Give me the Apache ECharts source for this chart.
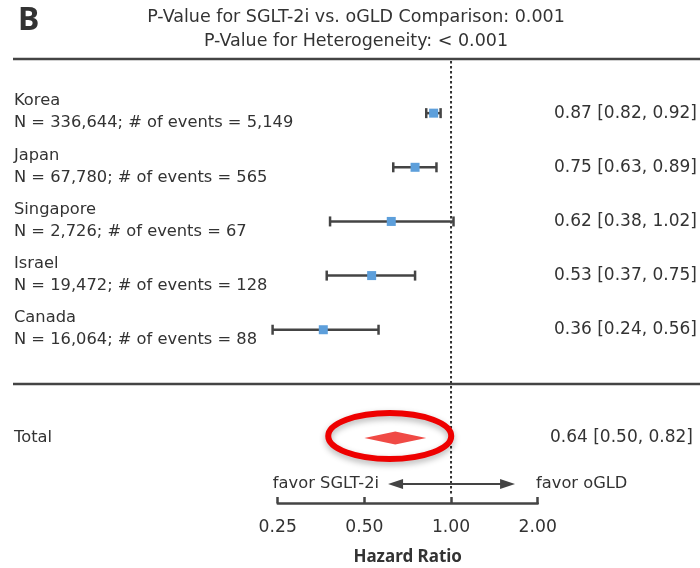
<!DOCTYPE html>
<html>
<head>
<meta charset="utf-8">
<script src="https://cdn.jsdelivr.net/npm/echarts@6/dist/echarts.min.js"></script>
<style>
html,body{margin:0;padding:0;background:#fff;}
#chart{width:700px;height:568px;}
</style>
</head>
<body>
<div id="chart"></div>
<script>
// ---- data ----
var countries = ['Korea', 'Japan', 'Singapore', 'Israel', 'Canada'];
var nLabels = [
  'N = 336,644; # of events = 5,149',
  'N = 67,780; # of events = 565',
  'N = 2,726; # of events = 67',
  'N = 19,472; # of events = 128',
  'N = 16,064; # of events = 88'
];
var hr = [0.87, 0.75, 0.62, 0.53, 0.36];
var lower = [0.82, 0.63, 0.38, 0.37, 0.24];
var upper = [0.92, 0.89, 1.02, 0.75, 0.56];
var totalLabel = 'Total';
var totalHr = 0.64, totalLower = 0.50, totalUpper = 0.82;
var xTicks = [0.25, 0.5, 1, 2];
var titleLines = ['P-Value for SGLT-2i vs. oGLD Comparison: 0.001', 'P-Value for Heterogeneity: < 0.001'];
var panelLetter = 'B';
var favorLeft = 'favor SGLT-2i', favorRight = 'favor oGLD';

// ---- build ----
var FONT = 'DejaVu Sans';
var BFONT = 'Noto Sans';
var FS = 16.3;
var FSR = 17;
var TXT = '#333';
var DARK = '#444';
var totalRow = countries.length + 1;
function fmt(v){ return v.toFixed(2); }
function ciText(h, l, u){ return fmt(h) + ' [' + fmt(l) + ', ' + fmt(u) + ']'; }

var rowData = countries.map(function(c, i){ return [hr[i], i, lower[i], upper[i]]; });
var textData = countries.map(function(c, i){ return [hr[i], i, c, nLabels[i], ciText(hr[i], lower[i], upper[i])]; });
textData.push([totalHr, totalRow, totalLabel, '', ciText(totalHr, totalLower, totalUpper)]);

var chart = echarts.init(document.getElementById('chart'), null, {renderer: 'canvas'});
var option = {
  animation: false,
  title: [
    {text: panelLetter, left: 13, top: 0, textStyle: {fontFamily: BFONT, fontSize: 32, fontWeight: 'bold', color: TXT}},
    {text: titleLines.join('\n'), left: 351, top: 0, textAlign: 'center',
     textStyle: {fontFamily: FONT, fontSize: 17.5, fontWeight: 'normal', color: TXT, lineHeight: 24}}
  ],
  grid: {left: 277.7, right: 162.3, top: 59, bottom: 65, containLabel: false, outerBoundsMode: 'none'},
  xAxis: {
    type: 'log', logBase: 2, min: xTicks[0], max: xTicks[xTicks.length - 1],
    axisLine: {show: true, onZero: false, lineStyle: {color: DARK, width: 2.5}},
    axisTick: {show: true, inside: true, length: 6, lineStyle: {color: DARK, width: 2.5}},
    axisLabel: {formatter: function(v){ return fmt(v); }, fontFamily: FONT, fontSize: 17.2, color: TXT, margin: 16},
    splitLine: {show: false},
    minorTick: {show: false},
    name: 'Hazard Ratio', nameLocation: 'middle', nameGap: 46,
    nameTextStyle: {fontFamily: BFONT, fontSize: 17, fontWeight: 'bold', color: TXT}
  },
  yAxis: {type: 'value', inverse: true, min: -1, max: 7.2, show: false},
  series: [
    { // separators, reference line, arrow
      type: 'custom', clip: false, silent: true,
      data: [[1, -1]],
      encode: {x: 0, y: 1},
      renderItem: function(params, api){
        var top = api.coord([1, -1]);
        var sep = api.coord([1, countries.length]);
        var bottom = api.coord([1, 7.2]);
        var x1 = top[0];
        var ay = bottom[1] - 19;
        var axl = x1 - 63, axr = x1 + 64;
        return {type: 'group', children: [
          {type: 'line', shape: {x1: 13, y1: top[1], x2: 700, y2: top[1]}, style: {stroke: DARK, lineWidth: 2.5}},
          {type: 'line', shape: {x1: 13, y1: sep[1], x2: 700, y2: sep[1]}, style: {stroke: DARK, lineWidth: 2.5}},
          {type: 'line', shape: {x1: x1, y1: top[1] + 2, x2: x1, y2: bottom[1] - 8}, style: {stroke: '#333', lineWidth: 2, lineDash: [2.5, 2.5]}},
          {type: 'line', shape: {x1: axl + 8, y1: ay, x2: axr - 8, y2: ay}, style: {stroke: DARK, lineWidth: 2.2}},
          {type: 'polygon', shape: {points: [[axl, ay], [axl + 15, ay - 5], [axl + 15, ay + 5]]}, style: {fill: DARK}},
          {type: 'polygon', shape: {points: [[axr, ay], [axr - 15, ay - 5], [axr - 15, ay + 5]]}, style: {fill: DARK}},
          {type: 'text', style: {text: favorLeft, x: axl - 9, y: ay, align: 'right', verticalAlign: 'middle', fontFamily: FONT, fontSize: FS, fill: TXT}},
          {type: 'text', style: {text: favorRight, x: axr + 21, y: ay, align: 'left', verticalAlign: 'middle', fontFamily: FONT, fontSize: FS, fill: TXT}}
        ]};
      },
      z: 1
    },
    { // study rows
      type: 'custom', clip: false,
      data: rowData,
      encode: {x: 0, y: 1},
      renderItem: function(params, api){
        var y = api.value(1);
        var c = api.coord([api.value(0), y]);
        var l = api.coord([api.value(2), y]);
        var u = api.coord([api.value(3), y]);
        var s = 9;
        return {type: 'group', children: [
          {type: 'line', shape: {x1: l[0], y1: c[1], x2: u[0], y2: c[1]}, style: {stroke: DARK, lineWidth: 2.5}},
          {type: 'line', shape: {x1: l[0], y1: c[1] - 5, x2: l[0], y2: c[1] + 5}, style: {stroke: DARK, lineWidth: 2.5}},
          {type: 'line', shape: {x1: u[0], y1: c[1] - 5, x2: u[0], y2: c[1] + 5}, style: {stroke: DARK, lineWidth: 2.5}},
          {type: 'rect', shape: {x: c[0] - s / 2, y: c[1] - s / 2, width: s, height: s}, style: {fill: '#5d9fdb'}}
        ]};
      },
      z: 3
    },
    { // total diamond and highlight ellipse
      type: 'custom', clip: false,
      data: [[totalHr, totalRow, totalLower, totalUpper]],
      encode: {x: 0, y: 1},
      renderItem: function(params, api){
        var y = api.value(1);
        var c = api.coord([api.value(0), y]);
        var l = api.coord([api.value(2), y]);
        var u = api.coord([api.value(3), y]);
        var h = 6.5;
        return {type: 'group', children: [
          {type: 'polygon', shape: {points: [[l[0], c[1]], [c[0], c[1] - h], [u[0], c[1]], [c[0], c[1] + h]]}, style: {fill: '#f04a45'}},
          {type: 'ellipse', shape: {cx: c[0] - 5.5, cy: c[1] - 2, rx: 61.5, ry: 23}, style: {fill: null, stroke: '#ee0000', lineWidth: 6, shadowBlur: 6, shadowColor: 'rgba(0,0,0,0.3)', shadowOffsetY: 3}}
        ]};
      },
      z: 4
    },
    { // text labels
      type: 'custom', clip: false, silent: true,
      data: textData,
      encode: {x: 0, y: 1},
      renderItem: function(params, api){
        var i = params.dataIndex;
        var d = textData[i];
        var y = api.coord([1, d[1]])[1];
        var children = [];
        var isTotal = d[3] === '';
        children.push({type: 'text', style: {text: d[2], x: 14, y: isTotal ? y : y - 12, align: 'left', verticalAlign: 'middle', fontFamily: FONT, fontSize: FS, fill: TXT}});
        if (!isTotal) {
          children.push({type: 'text', style: {text: d[3], x: 14, y: y + 10, align: 'left', verticalAlign: 'middle', fontFamily: FONT, fontSize: FS, fill: TXT}});
        }
        children.push({type: 'text', style: {text: d[4], x: isTotal ? 693 : 697, y: y, align: 'right', verticalAlign: 'middle', fontFamily: FONT, fontSize: FSR, fill: TXT}});
        return {type: 'group', children: children};
      },
      z: 2
    }
  ]
};
chart.setOption(option);
</script>
</body>
</html>
